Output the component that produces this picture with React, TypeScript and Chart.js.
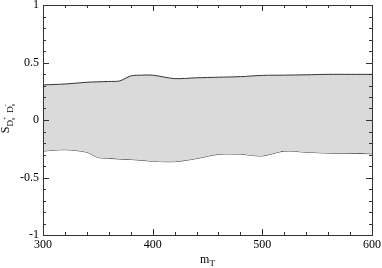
import React, { useEffect, useRef } from "react";
import { Chart, registerables } from "chart.js";
Chart.register(...registerables);

const massValues = [300, 320, 340, 350, 360, 370, 380, 390, 400, 420, 440, 460, 480, 500, 520, 540, 560, 580, 600];
const upperBound = [0.305, 0.313, 0.328, 0.332, 0.335, 0.34, 0.383, 0.39, 0.39, 0.36, 0.367, 0.372, 0.377, 0.388, 0.39, 0.393, 0.397, 0.397, 0.397];
const lowerBound = [-0.27, -0.258, -0.28, -0.325, -0.333, -0.339, -0.343, -0.35, -0.358, -0.362, -0.335, -0.298, -0.297, -0.312, -0.27, -0.28, -0.287, -0.29, -0.293];
const xTicks = [300, 400, 500, 600];
const yTicks = [-1, -0.5, 0, 0.5, 1];
const yTickLabels = ["-1", "-0.5", "0", "0.5", "1"];

const FONT = "'Liberation Serif', 'DejaVu Serif', serif";

const framePlugin = {
  id: "frame",
  afterDraw(chart: any) {
    const { ctx, chartArea: a, scales } = chart;
    const xs = scales.x, ys = scales.y;
    ctx.save();
    ctx.strokeStyle = "#333";
    ctx.lineWidth = 1;
    ctx.strokeRect(Math.round(a.left) + 0.5, Math.round(a.top) + 0.5, Math.round(a.right - a.left), Math.round(a.bottom - a.top));
    ctx.beginPath();
    for (let v = 300; v <= 600; v += 20) {
      const px = Math.round(xs.getPixelForValue(v)) + 0.5;
      const len = v % 100 === 0 ? 6 : 3;
      ctx.moveTo(px, a.bottom); ctx.lineTo(px, a.bottom - len);
      ctx.moveTo(px, a.top); ctx.lineTo(px, a.top + len);
    }
    for (let i = -10; i <= 10; i++) {
      const v = i / 10;
      const py = Math.round(ys.getPixelForValue(v)) + 0.5;
      const len = i % 5 === 0 ? 6 : 3;
      ctx.moveTo(a.left, py); ctx.lineTo(a.left + len, py);
      ctx.moveTo(a.right, py); ctx.lineTo(a.right - len, py);
    }
    ctx.stroke();

    ctx.fillStyle = "#000";
    ctx.font = `12px ${FONT}`;
    ctx.textAlign = "center";
    ctx.textBaseline = "top";
    xTicks.forEach((v) => ctx.fillText(String(v), xs.getPixelForValue(v), a.bottom + 4));
    ctx.textAlign = "right";
    ctx.textBaseline = "middle";
    yTicks.forEach((v, i) => ctx.fillText(yTickLabels[i], a.left - 4, ys.getPixelForValue(v)));

    // x title m_T
    const cx = (a.left + a.right) / 2;
    ctx.textAlign = "left";
    ctx.textBaseline = "alphabetic";
    ctx.font = `12px ${FONT}`;
    const mw = ctx.measureText("m").width;
    ctx.font = `9px ${FONT}`;
    const tw = ctx.measureText("T").width;
    const sx = cx - (mw + tw) / 2;
    ctx.font = `12px ${FONT}`;
    ctx.fillText("m", sx, 263);
    ctx.font = `9px ${FONT}`;
    ctx.fillText("T", sx + mw, 266);

    // y title S_{D_s^+ D_s^-}
    ctx.save();
    ctx.translate(9, 118);
    ctx.rotate(-Math.PI / 2);
    ctx.font = `12px ${FONT}`;
    const sW = ctx.measureText("S").width;
    ctx.font = `9px ${FONT}`;
    const dW = ctx.measureText("D").width;
    ctx.font = `6px ${FONT}`;
    const pW = ctx.measureText("+").width;
    const total = sW + 2 * dW + 2 * pW + 4;
    let x = -total / 2;
    ctx.font = `12px ${FONT}`;
    ctx.fillText("S", x, 0); x += sW;
    ctx.font = `9px ${FONT}`;
    ctx.fillText("D", x, 4);
    ctx.font = `6px ${FONT}`;
    ctx.fillText("+", x + dW, -2);
    ctx.fillText("s", x + dW, 6);
    x += dW + pW + 4;
    ctx.font = `9px ${FONT}`;
    ctx.fillText("D", x, 4);
    ctx.font = `6px ${FONT}`;
    ctx.fillText("-", x + dW, -2);
    ctx.fillText("s", x + dW, 6);
    ctx.restore();
    ctx.restore();
  },
};

export default function App() {
  const ref = useRef<HTMLCanvasElement>(null);
  useEffect(() => {
    if (!ref.current) return;
    const chart = new Chart(ref.current, {
      type: "line",
      data: {
        datasets: [
          {
            data: massValues.map((m, i) => ({ x: m, y: upperBound[i] })),
            borderColor: "#333",
            borderWidth: 1,
            backgroundColor: "#dadada",
            fill: "+1",
            pointRadius: 0,
            tension: 0.3,
          },
          {
            data: massValues.map((m, i) => ({ x: m, y: lowerBound[i] })),
            borderColor: "#333",
            borderWidth: 1,
            pointRadius: 0,
            fill: false,
            tension: 0.3,
          },
        ],
      },
      options: {
        responsive: false,
        animation: false,
        layout: { padding: { left: 43, right: 10, top: 5, bottom: 33 } },
        plugins: { legend: { display: false }, tooltip: { enabled: false } },
        scales: {
          x: { type: "linear", min: 300, max: 600, display: false },
          y: { type: "linear", min: -1, max: 1, display: false },
        },
      },
      plugins: [framePlugin],
    });
    return () => chart.destroy();
  }, []);
  return (
    <div style={{ position: "fixed", left: 0, top: 0, width: 382, height: 268, background: "#fff" }}>
      <canvas ref={ref} width={382} height={268} />
    </div>
  );
}
